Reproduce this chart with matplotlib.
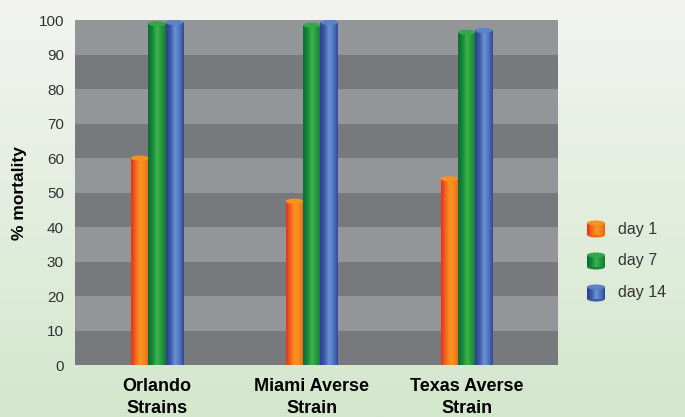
import numpy as np
import matplotlib.pyplot as plt
from matplotlib.colors import LinearSegmentedColormap
from matplotlib.patches import Ellipse

plt.rcParams['font.family'] = ['Liberation Sans', 'DejaVu Sans']

# --- données ---
categories = ["Orlando\nStrains", "Miami Averse\nStrain", "Texas Averse\nStrain"]
series = ["day 1", "day 7", "day 14"]
day1 = [60, 47.5, 54]
day7 = [99, 98.5, 96.5]
day14 = [99.3, 99.3, 97]
values = [day1, day7, day14]

# dégradés "cylindre" : gauche -> reflet -> droite
grads = [
    ["#e5321b", "#f26522", "#f7941d", "#f5861f", "#e8641c"],
    ["#0a6e34", "#16873d", "#3db54a", "#27983f", "#137a38"],
    ["#2b3f8f", "#3c5aa8", "#6d93d2", "#5176bf", "#33489a"],
]
caps = ["#f7941d", "#34a848", "#5a82c6"]

fig = plt.figure(figsize=(6.85, 4.17), dpi=100)

# fond dégradé vert clair
bg = fig.add_axes([0, 0, 1, 1], zorder=-10)
bg.imshow(np.linspace(0, 1, 256).reshape(-1, 1), aspect='auto', extent=[0, 1, 0, 1],
          cmap=LinearSegmentedColormap.from_list("bg", ["#f3f4f1", "#d3e7cc"]))
bg.axis('off')

ax = fig.add_axes([0.1095, 0.1247, 0.705, 0.827])
ax.set_xlim(-0.53, 2.59)
ax.set_ylim(0, 100)

# bandes grises alternées
for k in range(10):
    c = "#77797c" if k % 2 == 0 else "#949599"
    ax.axhspan(k * 10, k * 10 + 10, color=c, lw=0, zorder=0)

x = np.arange(len(categories))
w = 0.112
for j, vals in enumerate(values):
    cmap = LinearSegmentedColormap.from_list("g%d" % j, grads[j])
    for i, v in enumerate(vals):
        xc = x[i] + (j - 1) * w
        ax.imshow(np.linspace(0, 1, 64).reshape(1, -1), cmap=cmap, aspect='auto',
                  extent=[xc - w / 2, xc + w / 2, 0, v], zorder=2)
        ax.add_patch(Ellipse((xc, v), w, 1.5, color=caps[j], zorder=3, lw=0))

ax.set_xlim(-0.53, 2.59)
ax.set_ylim(0, 100)
ax.set_yticks(range(0, 101, 10))
ax.set_xticks(x)
ax.set_xticklabels(categories, fontsize=13, fontweight='bold', linespacing=1.45)
ax.tick_params(axis='y', length=0, labelsize=11, colors="#333333", pad=8)
ax.tick_params(axis='x', length=0, pad=9)
for s in ax.spines.values():
    s.set_visible(False)
ax.set_ylabel("% mortality", fontsize=12.5, fontweight='bold', labelpad=8)

# légende avec petites icônes cylindriques
lg = fig.add_axes([0, 0, 1, 1], zorder=5)
lg.axis('off')
for j, name in enumerate(series):
    yc = 228 + j * 32
    cmap = LinearSegmentedColormap.from_list("l%d" % j, grads[j])
    lg.imshow(np.linspace(0, 1, 32).reshape(1, -1), cmap=cmap, aspect='auto',
              extent=[587, 605, yc + 7, yc - 5], zorder=1)
    lg.add_patch(Ellipse((596, yc - 5), 18, 5, color=caps[j], zorder=2, lw=0))
    lg.add_patch(Ellipse((596, yc + 7), 18, 5, color=grads[j][1], zorder=0, lw=0))
    lg.text(618, yc + 1, name, fontsize=11.5, color="#333333", va='center', ha='left')
lg.set_xlim(0, 685)
lg.set_ylim(417, 0)

fig.savefig("out.png", dpi=100)
